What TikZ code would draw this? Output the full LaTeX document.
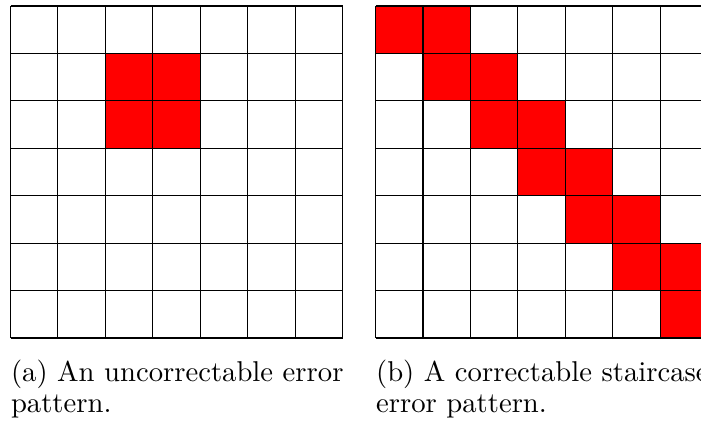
\documentclass[tikz,border=0pt]{standalone}
\begin{document}
\begin{tikzpicture}[x=0.3663pt,y=-0.3663pt,
  gridline/.style={line width=0.4pt,black},
  errcell/.style={fill=red,draw=none},
  caption/.style={anchor=base west,inner sep=0pt,font=\fontsize{10.5}{11.35}\selectfont}]
\useasboundingbox (0,0) rectangle (701,423);
\clip (0,0) rectangle (701,423);
\def\cs{47.43}
% left grid
\begin{scope}[shift={(10.5,6)}]
  \foreach \r/\c in {1/2,1/3,2/2,2/3}
    \fill[errcell] (\c*\cs,\r*\cs) rectangle ++(\cs,\cs);
  \foreach \i in {0,...,7}{
    \draw[gridline] (\i*\cs,0) -- (\i*\cs,7*\cs);
    \draw[gridline] (0,\i*\cs) -- (7*\cs,\i*\cs);
  }
\end{scope}
% right grid
\begin{scope}[shift={(375.6,6)}]
  \foreach \r/\c in {0/0,0/1,1/1,1/2,2/2,2/3,3/3,3/4,4/4,4/5,5/5,5/6,6/6}
    \fill[errcell] (\c*\cs,\r*\cs) rectangle ++(\cs,\cs);
  \foreach \i in {0,...,7}{
    \draw[gridline] (\i*\cs,0) -- (\i*\cs,7*\cs);
    \draw[gridline] (0,\i*\cs) -- (7*\cs,\i*\cs);
  }
\end{scope}
\node[caption] (capa1) at (10.5,381) {(a) An uncorrectable error};
\node[caption] (capa2) at (10.5,412) {pattern.};
\node[caption] (capb1) at (375.6,381) {(b) A correctable staircase};
\node[caption] (capb2) at (375.6,412) {error pattern.};
\end{tikzpicture}
\end{document}
